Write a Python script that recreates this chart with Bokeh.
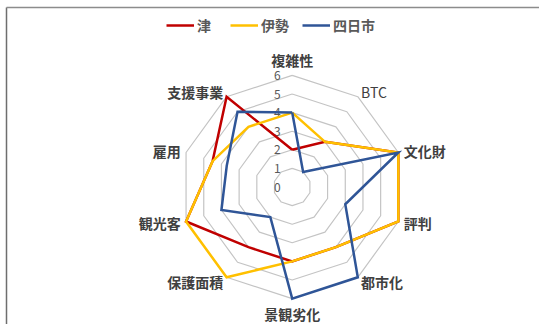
import math
from bokeh.plotting import figure
from bokeh.models import Range1d, Legend, LegendItem, ColumnDataSource
from bokeh.core.properties import value
from bokeh.embed import file_html
from bokeh.resources import INLINE

# ---- data ----
categories = ["複雑性", "BTC", "文化財", "評判", "都市化", "景観劣化", "保護面積", "観光客", "雇用", "支援事業"]
tsu = [2, 3, 6, 6, 4, 4, 4, 6, 4.5, 6]
ise = [4, 3, 6, 6, 4, 4, 6, 6, 4.5, 4]
yokkaichi = [4, 1, 6, 3, 6, 6, 2, 4, 3.7, 5]
series_names = ["津", "伊勢", "四日市"]
tick_values = [0, 1, 2, 3, 4, 5, 6]
tick_labels = ["0", "1", "2", "3", "4", "5", "6"]

# ---- layout ----
W, H = 539, 324
UNIT = 18.6          # pixels per value unit
CX, CY = 291.7, 186.5  # pixel centre of radar
colors = ["#C00000", "#FFC000", "#2F5597"]
FONT = "Noto Sans CJK JP"

p = figure(width=W, height=H, output_backend="svg", toolbar_location=None,
           x_range=Range1d(-CX / UNIT, (W - CX) / UNIT),
           y_range=Range1d(-(H - CY) / UNIT, CY / UNIT),
           min_border=0, outline_line_color=None)
p.axis.visible = False
p.grid.visible = False
p.background_fill_color = "white"
p.border_fill_color = "white"

n = len(categories)
angles = [2 * math.pi * i / n for i in range(n)]

def polar(vals):
    xs = [v * math.sin(a) for v, a in zip(vals, angles)]
    ys = [v * math.cos(a) for v, a in zip(vals, angles)]
    return xs + xs[:1], ys + ys[:1]

# chart border (top and left visible)
x0 = -CX / UNIT + 6 / UNIT
y0 = CY / UNIT - 7 / UNIT
p.line([x0, x0], [y0, -(H - CY) / UNIT - 1], line_color="#6e6e6e", line_width=1.5)
p.line([x0, (W - CX) / UNIT + 1], [y0, y0], line_color="#8c8c8c", line_width=1.5)

# grid decagons
for lv in tick_values[1:]:
    gx, gy = polar([lv] * n)
    p.line(gx, gy, line_color="#c4c4c4", line_width=1.2)

# tick labels
p.text(x=[-0.62] * len(tick_values), y=tick_values, text=tick_labels,
       text_align="right", text_baseline="middle", text_font=value(FONT),
       text_font_size="12px", text_color="#595959")

# series
renderers = []
for vals, c in zip([tsu, ise, yokkaichi], colors):
    sx, sy = polar(vals)
    r = p.line(sx, sy, line_color=c, line_width=2.5, line_join="miter")
    renderers.append(r)

# category labels
lx, ly, la, ls = [], [], [], []
for cat, a in zip(categories, angles):
    s, c = math.sin(a), math.cos(a)
    rr = 6.82 if abs(c) > 0.95 else 6.3
    lx.append(rr * s)
    ly.append(rr * c)
    la.append("left" if s > 0.1 else ("right" if s < -0.1 else "center"))
    ls.append("normal" if cat.isascii() else "bold")
src = ColumnDataSource(dict(x=lx, y=ly, t=categories, a=la, st=ls))
p.text(x="x", y="y", text="t", text_align="a", text_baseline="middle", source=src,
       text_font=value(FONT), text_font_style="st", text_font_size="14px", text_color="#404040")

# legend
legend = Legend(items=[LegendItem(label=nm, renderers=[r]) for nm, r in zip(series_names, renderers)],
                orientation="horizontal", location=(166, H - 35),
                glyph_width=28, glyph_height=20, label_standoff=3, spacing=13,
                padding=0, margin=0, label_text_font=FONT, label_text_font_size="14px",
                label_text_font_style="bold",
                label_text_color="#595959", border_line_alpha=0, background_fill_alpha=0)
p.add_layout(legend, "center")

open("out.html", "w").write(file_html(p, INLINE))
